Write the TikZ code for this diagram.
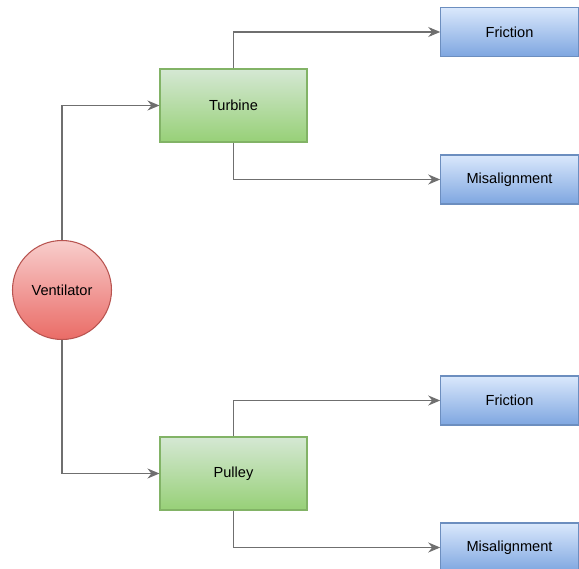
\documentclass[tikz,border=0pt]{standalone}
\usepackage{fontspec}
\setmainfont{Liberation Sans}
\usepackage{tikz}
\usetikzlibrary{arrows.meta}

\definecolor{greenTop}{HTML}{D5E8D4}
\definecolor{greenBot}{HTML}{97D077}
\definecolor{greenLine}{HTML}{82B366}
\definecolor{redTop}{HTML}{F8CECC}
\definecolor{redBot}{HTML}{EA6B66}
\definecolor{redLine}{HTML}{B85450}
\definecolor{blueTop}{HTML}{DAE8FC}
\definecolor{blueBot}{HTML}{7EA6E0}
\definecolor{blueLine}{HTML}{6C8EBF}
\definecolor{edgeGray}{HTML}{6F6F6F}

\begin{document}
\begin{tikzpicture}[
        font=\fontsize{8.3}{10}\selectfont,
        root/.style={circle, draw=redLine, line width=0.6pt, top color=redTop,
            bottom color=redBot, minimum size=1.98cm, inner sep=0pt},
        part/.style={rectangle, draw=greenLine, line width=0.6pt, top color=greenTop,
            bottom color=greenBot, minimum width=2.94cm, minimum height=1.46cm},
        fault/.style={rectangle, draw=blueLine, line width=0.6pt, top color=blueTop,
            bottom color=blueBot, minimum width=2.75cm, minimum height=0.98cm},
        line/.style={draw=edgeGray, line width=0.6pt, -{Stealth[length=2.4mm, width=2mm]}}
    ]
    \useasboundingbox (0,0) rectangle (11.58,-11.38);

    \node [root] (vent) at (1.24,-5.80) {Ventilator};
    \node [part] (turb) at (4.67,-2.11) {Turbine};
    \node [part] (pull) at (4.67,-9.47) {Pulley};

    % failure modes on the right
    \node [fault] (fric1) at (10.19,-0.64) {Friction};
    \node [fault] (mis1) at (10.19,-3.59) {Misalignment};
    \node [fault] (fric2) at (10.19,-8.01) {Friction};
    \node [fault] (mis2) at (10.19,-10.95) {Misalignment};

    \path [line] (vent.north) |- (turb.west);
    \path [line] (vent.south) |- (pull.west);
    \path [line] (turb.north) |- (fric1.west);
    \path [line] (turb.south) |- (mis1.west);
    \path [line] (pull.north) |- (fric2.west);
    \path [line] (pull.south) |- (mis2.west);
\end{tikzpicture}
\end{document}
